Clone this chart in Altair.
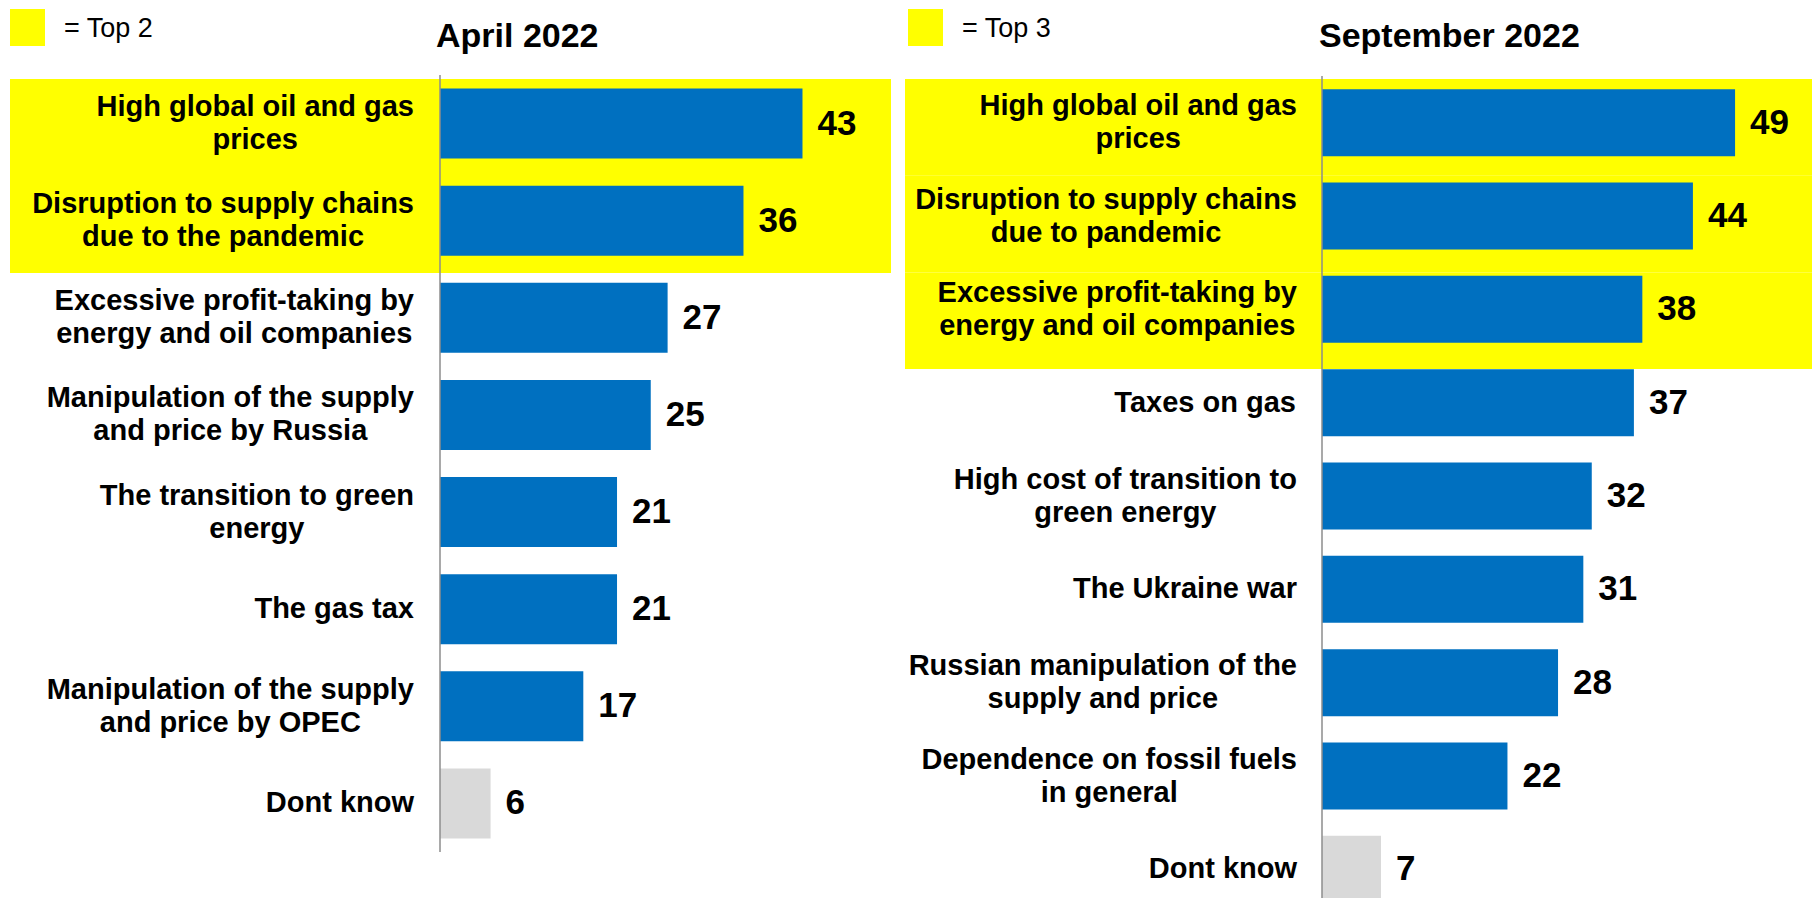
import altair as alt
import pandas as pd

april_causes = [
    "High global oil and gas|prices",
    "Disruption to supply chains|due to the pandemic",
    "Excessive profit-taking by|energy and oil companies",
    "Manipulation of the supply|and price by Russia",
    "The transition to green|energy",
    "The gas tax",
    "Manipulation of the supply|and price by OPEC",
    "Dont know",
]
april_values = [43, 36, 27, 25, 21, 21, 17, 6]

sept_causes = [
    "High global oil and gas|prices",
    "Disruption to supply chains|due to pandemic",
    "Excessive profit-taking by|energy and oil companies",
    "Taxes on gas",
    "High cost of transition to|green energy",
    "The Ukraine war",
    "Russian manipulation of the|supply and price",
    "Dependence on fossil fuels|in general",
    "Dont know",
]
sept_values = [49, 44, 38, 37, 32, 31, 28, 22, 7]

FONT = "Liberation Sans, Arial, sans-serif"
BLUE = "#0070C0"
GREY = "#D9D9D9"
YELLOW = "#FFFF00"
PX_PER_UNIT = 8.43
LABEL_SIZE = 29
LINE_H = 33

# Arial/Liberation Sans Bold advance widths (per 1000 em) used to centre
# multi-line labels, which are centred line by line and right-aligned as a block.
_W = {" ": 278, "-": 333}
_W.update(dict(zip("abcdefghijklmnopqrstuvwxyz",
                   [556, 611, 556, 611, 556, 333, 611, 611, 278, 278, 556, 278, 889,
                    611, 611, 611, 611, 389, 556, 333, 611, 556, 778, 556, 556, 500])))
_W.update(dict(zip("ABCDEFGHIJKLMNOPQRSTUVWXYZ",
                   [722, 722, 722, 722, 667, 611, 778, 722, 278, 556, 722, 611, 833,
                    722, 778, 667, 778, 722, 667, 611, 722, 667, 944, 667, 667, 611])))


def text_width(s, size):
    return sum(_W.get(ch, 556) for ch in s) * size / 1000.0


def panel(causes, values, top_n, title, legend_text, width, height,
          axis_x, label_gap, title_x, yellow_x1, yellow_x2, leg_x,
          y_range, pad_inner, pad_outer, yellow_range):
    # label block centre, expressed in x-scale units (left of the zero line)
    centres = [-(label_gap + max(text_width(p, LABEL_SIZE) for p in c.split("|")) / 2)
               / PX_PER_UNIT for c in causes]
    df = pd.DataFrame({
        "cause": causes,
        "value": values,
        "kind": ["dk" if c == "Dont know" else "main" for c in causes],
        "nlines": [len(c.split("|")) for c in causes],
        "cx": centres,
    })
    top_df = df.iloc[:top_n]

    yscale = alt.Scale(domain=causes, range=y_range,
                       paddingInner=pad_inner, paddingOuter=pad_outer)
    xscale = alt.Scale(domain=[0, 50], range=[axis_x, axis_x + 50 * PX_PER_UNIT],
                       nice=False, zero=False)

    band = alt.Chart(top_df).mark_rect(color=YELLOW).encode(
        y=alt.Y("cause:N", axis=None,
                scale=alt.Scale(domain=causes, range=yellow_range,
                                paddingInner=0, paddingOuter=0)),
        x=alt.value(yellow_x1),
        x2=alt.value(yellow_x2),
    )

    bars = alt.Chart(df).mark_bar(clip=True).encode(
        y=alt.Y("cause:N", scale=yscale, axis=None),
        x=alt.X("value:Q", scale=xscale, axis=None),
        color=alt.Color("kind:N", scale=alt.Scale(domain=["main", "dk"],
                                                  range=[BLUE, GREY]),
                        legend=None),
    )

    meta = pd.DataFrame({"title": [title], "legend": [legend_text], "zero": [0]})

    axis_line = alt.Chart(meta).mark_rule(
        color="#8C8C8C", strokeWidth=1.5, clip=True
    ).encode(
        x=alt.X("zero:Q", scale=xscale, axis=None),
        y=alt.value(y_range[0]),
        y2=alt.value(y_range[1]),
    )

    vals = alt.Chart(df).mark_text(
        align="left", baseline="middle", dx=15, fontSize=35,
        fontWeight="bold", font=FONT, color="black",
    ).encode(
        y=alt.Y("cause:N", scale=yscale, axis=None),
        x=alt.X("value:Q", scale=xscale, axis=None),
        text=alt.Text("value:Q"),
    )

    def label_layer(n, dy):
        return alt.Chart(df).transform_filter(
            alt.datum.nlines == n
        ).mark_text(
            align="center", baseline="middle", fontSize=LABEL_SIZE, fontWeight="bold",
            font=FONT, color="black", lineBreak="|", lineHeight=LINE_H, dy=dy,
        ).encode(
            y=alt.Y("cause:N", scale=yscale, axis=None),
            x=alt.X("cx:Q", scale=xscale, axis=None),
            text="cause:N",
        )

    labels1 = label_layer(1, 0)
    labels2 = label_layer(2, -LINE_H / 2)

    title_mark = alt.Chart(meta).mark_text(
        align="left", baseline="alphabetic", fontSize=34, fontWeight="bold",
        font=FONT, color="black",
    ).encode(x=alt.value(title_x), y=alt.value(39), text="title:N")

    leg_box = alt.Chart(meta).mark_rect(color=YELLOW).encode(
        x=alt.value(leg_x), x2=alt.value(leg_x + 35),
        y=alt.value(1), y2=alt.value(38),
    )
    leg_text = alt.Chart(meta).mark_text(
        align="left", baseline="alphabetic", fontSize=27, font=FONT, color="black",
    ).encode(x=alt.value(leg_x + 54), y=alt.value(29), text="legend:N")

    return alt.layer(
        band, bars, axis_line, vals, labels1, labels2, title_mark, leg_box, leg_text
    ).resolve_scale(y="independent").properties(width=width, height=height)


left = panel(april_causes, april_values, 2, "April 2022", "= Top 2",
             width=897, height=890, axis_x=432, label_gap=26, title_x=428,
             yellow_x1=2, yellow_x2=883, leg_x=2,
             y_range=[67, 844], pad_inner=0.279, pad_outer=0.139,
             yellow_range=[71, 71 + 8 * 97])

right = panel(sept_causes, sept_values, 3, "September 2022", "= Top 3",
              width=907, height=890, axis_x=417, label_gap=25, title_x=414,
              yellow_x1=0, yellow_x2=907, leg_x=3,
              y_range=[68, 908], pad_inner=0.282, pad_outer=0.141,
              yellow_range=[71, 71 + 9 * 96.7])

chart = alt.hconcat(left, right, spacing=0, bounds="flush").configure_view(
    stroke=None
).properties(padding=0, background="white")

chart.save("out.html", embed_options={"renderer": "svg", "actions": False})
